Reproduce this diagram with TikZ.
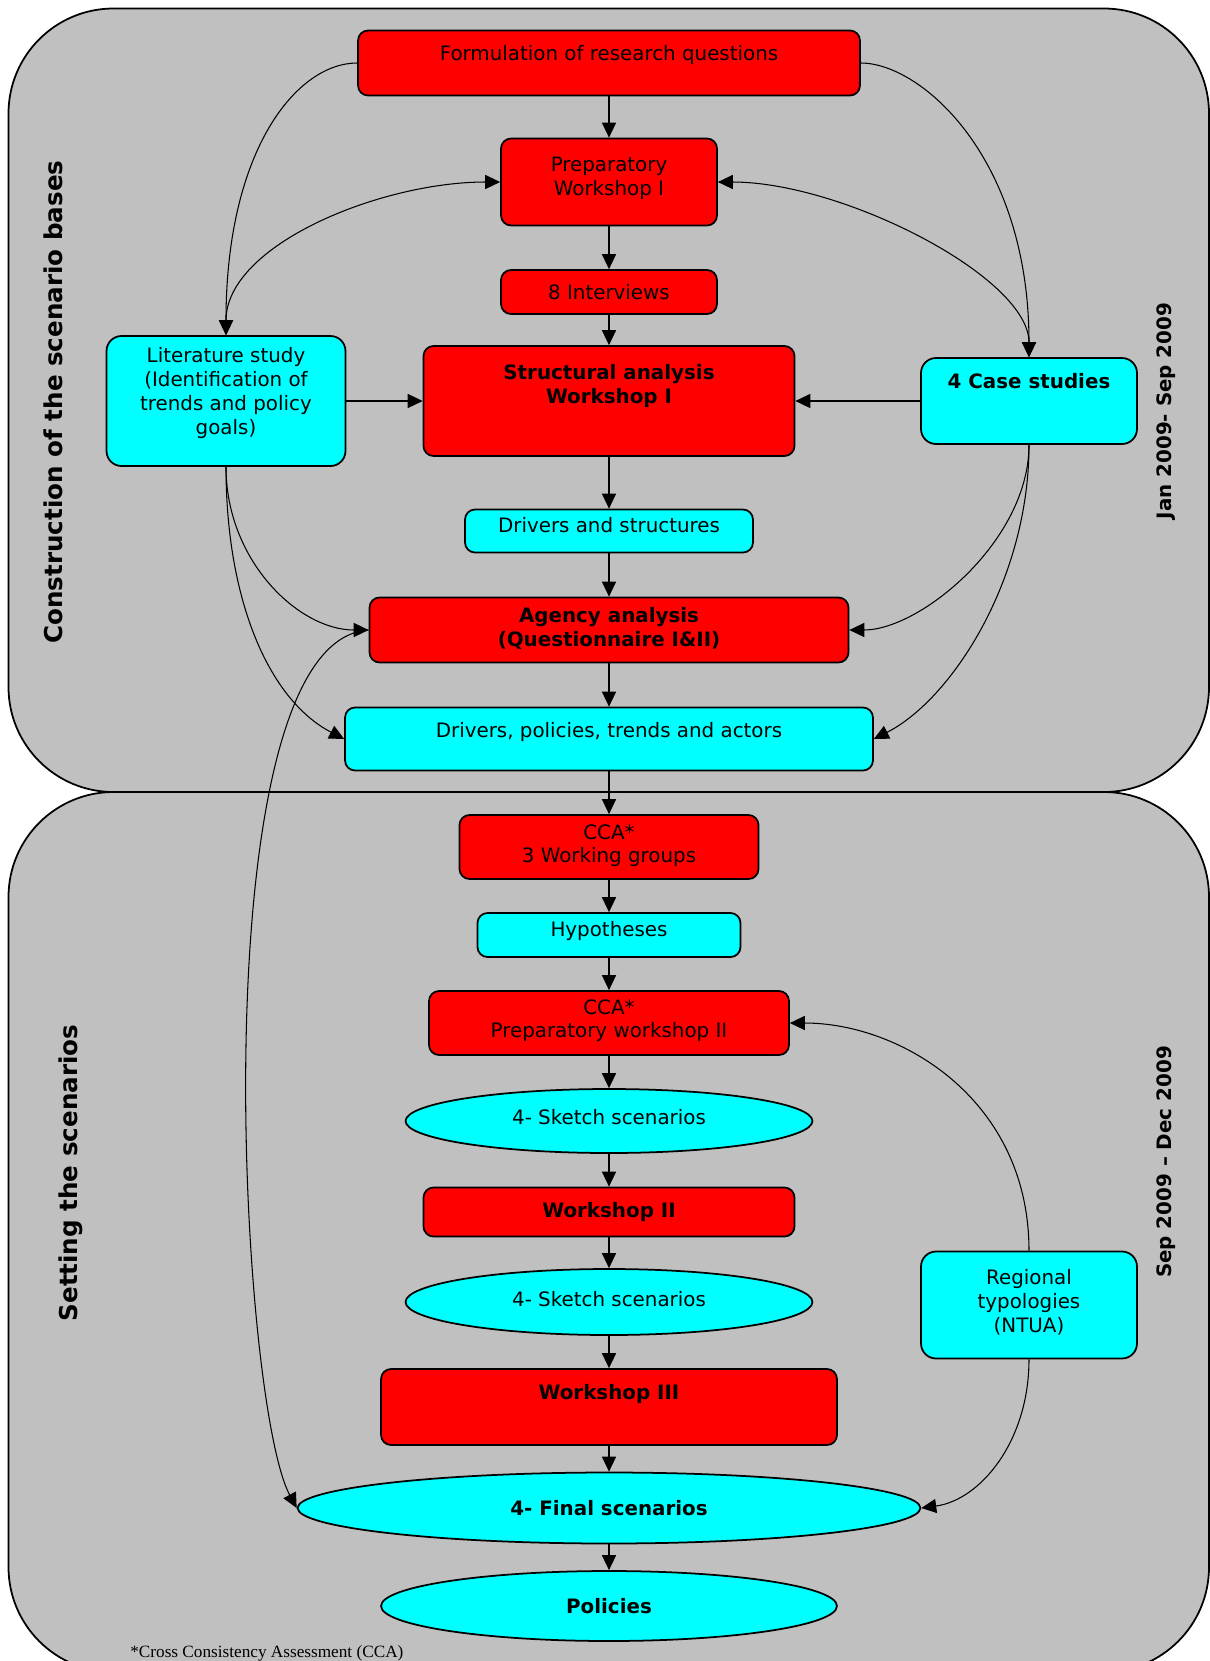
\documentclass[tikz,border=0pt]{standalone}
\usepackage{fontspec}
\setmainfont{DejaVu Sans}
\newfontfamily\notefont{Liberation Serif}
\usetikzlibrary{shapes.geometric,arrows.meta}
\definecolor{boxred}{RGB}{255,0,0}
\definecolor{boxcyan}{RGB}{0,255,255}
\definecolor{panelgray}{RGB}{192,192,192}
\tikzset{
	box/.style={draw, line width=1pt, rounded corners=0.2cm, align=center, inner sep=3pt, font=\fontsize{11.3pt}{13.6pt}\selectfont},
	redbox/.style={box, fill=boxred},
	cyanbox/.style={box, fill=boxcyan},
	oval/.style={ellipse, draw, line width=1pt, fill=boxcyan, align=center, inner sep=1pt, font=\fontsize{11.3pt}{13.6pt}\selectfont},
	lift/.style={text depth=#1},
	arr/.style={-{Triangle[length=8.5pt,width=8pt]}, line width=0.6pt},
	dbl/.style={{Triangle[length=8.5pt,width=8pt]}-{Triangle[length=8.5pt,width=8pt]}, line width=0.6pt},
	panel/.style={draw, fill=panelgray, line width=1pt, rounded corners=2.1cm},
	sidelabel/.style={rotate=90, anchor=base, font=\bfseries\fontsize{14pt}{16pt}\selectfont},
	datelabel/.style={rotate=90, anchor=base, font=\bfseries\fontsize{11.3pt}{13.6pt}\selectfont}
}
\begin{document}
\begin{tikzpicture}[x=0.02cm, y=-0.02cm]
		\useasboundingbox (0,0) rectangle (1210,1661);
		\clip (0,0) rectangle (1210,1661);
		% the two phases
			\draw [panel] (8.5,792) rectangle (1209,1672);
			\draw [panel] (8.5,8.5) rectangle (1209,792);
			\node [sidelabel] (constr) at (62,402) {Construction of the scenario bases};
			\node [sidelabel] (setting) at (77,1173) {Setting the scenarios};
			\node [datelabel] (phaseone) at (1171,411) {Jan 2009- Sep 2009};
			\node [datelabel] (phasetwo) at (1171,1162) {Sep 2009 -- Dec 2009};
		% first phase
			\node [redbox, minimum width=10.04cm, minimum height=1.3cm, lift=11.5pt] (form) at (609,63) {Formulation of research questions};
			\node [redbox, minimum width=4.32cm, minimum height=1.74cm, lift=7pt] (prep) at (609,182) {Preparatory\\Workshop I};
			\node [redbox, minimum width=4.32cm, minimum height=0.88cm] (interv) at (609,292) {8 Interviews};
			\node [redbox, minimum width=7.42cm, minimum height=2.2cm, lift=19.5pt, font=\bfseries\fontsize{11.3pt}{13.6pt}\selectfont] (struct) at (609,401) {Structural analysis\\Workshop I};
			\node [cyanbox, minimum width=4.78cm, minimum height=2.6cm, lift=11.5pt, rounded corners=0.3cm] (lit) at (226,401) {Literature study\\(Identification of\\trends and policy\\goals)};
			\node [cyanbox, minimum width=4.32cm, minimum height=1.72cm, lift=22.5pt, rounded corners=0.3cm, font=\bfseries\fontsize{11.3pt}{13.6pt}\selectfont] (case) at (1029,401) {4 Case studies};
			\node [cyanbox, minimum width=5.76cm, minimum height=0.86cm, lift=6.8pt] (drvs) at (609,531) {Drivers and structures};
			\node [redbox, minimum width=9.58cm, minimum height=1.3cm, lift=3.5pt, font=\bfseries\fontsize{11.3pt}{13.6pt}\selectfont] (agency) at (609,630) {Agency analysis\\(Questionnaire I\&II)};
			\node [cyanbox, minimum width=10.56cm, minimum height=1.26cm, lift=9.8pt] (dpol) at (609,739) {Drivers, policies, trends and actors};
		% second phase
			\node [redbox, minimum width=5.98cm, minimum height=1.28cm, lift=3.8pt] (ccaone) at (609,847) {CCA*\\3 Working groups};
			\node [cyanbox, minimum width=5.26cm, minimum height=0.88cm, lift=6.8pt] (hyp) at (609,935) {Hypotheses};
			\node [redbox, minimum width=7.2cm, minimum height=1.28cm, lift=5pt] (ccatwo) at (609,1023) {CCA*\\Preparatory workshop II};
			\node [oval, minimum width=8.14cm, minimum height=1.28cm, lift=5pt] (sketchone) at (609,1121) {4- Sketch scenarios};
			\node [redbox, minimum width=7.42cm, minimum height=0.98cm, lift=2.7pt, font=\bfseries\fontsize{11.3pt}{13.6pt}\selectfont] (wstwo) at (609,1212) {Workshop II};
			\node [oval, minimum width=8.14cm, minimum height=1.32cm, lift=3.8pt] (sketchtwo) at (609,1302) {4- Sketch scenarios};
			\node [redbox, minimum width=9.12cm, minimum height=1.52cm, lift=17pt, font=\bfseries\fontsize{11.3pt}{13.6pt}\selectfont] (wsthree) at (609,1407) {Workshop III};
			\node [oval, minimum width=12.46cm, minimum height=1.42cm, font=\bfseries\fontsize{11.3pt}{13.6pt}\selectfont] (final) at (609,1508) {4- Final scenarios};
			\node [oval, minimum width=9.12cm, minimum height=1.4cm, font=\bfseries\fontsize{11.3pt}{13.6pt}\selectfont] (pol) at (609,1606) {Policies};
			\node [cyanbox, minimum width=4.32cm, minimum height=2.14cm, lift=4.4pt, rounded corners=0.3cm] (reg) at (1029,1305) {Regional\\typologies\\(NTUA)};
			\node [anchor=base west, inner sep=0pt, font=\notefont\fontsize{9.8pt}{11pt}\selectfont] (note) at (130,1657) {*Cross Consistency Assessment (CCA)};
		% main line
			\foreach \a/\b in {form/prep, prep/interv, interv/struct, struct/drvs, drvs/agency, agency/dpol, dpol/ccaone, ccaone/hyp, hyp/ccatwo, ccatwo/sketchone, sketchone/wstwo, wstwo/sketchtwo, sketchtwo/wsthree, wsthree/final, final/pol}
				\draw [arr] (\a.south) -- (\b.north);
		% side inputs
			\draw [arr] (form.west) .. controls +(-60,0) and +(0,-186) .. (lit.north);
			\draw [arr] (form.east) .. controls +(60,0) and +(0,-200) .. (case.north);
			\draw [dbl] (lit.north) .. controls +(0,-90) and +(-120,0) .. (prep.west);
			\draw [dbl] (case.north) .. controls +(0,-80) and +(125,0) .. (prep.east);
			\draw [arr] (lit.east) -- (struct.west);
			\draw [arr] (case.west) -- (struct.east);
			\draw [arr] (lit.south) .. controls +(0,94) and +(-70,0) .. (agency.west);
			\draw [arr] (lit.south) .. controls +(0,134) and +(-75,-39) .. (dpol.west);
			\draw [arr] (case.south) .. controls +(0,96) and +(71,0) .. (agency.east);
			\draw [arr] (case.south) .. controls +(0,136) and +(77,-39) .. (dpol.east);
			\draw [arr] (agency.west) .. controls +(-170,10) and +(-58,-108) .. (final.west);
			\draw [arr] (reg.north) .. controls +(0,-151) and +(111,0) .. (ccatwo.east);
			\draw [arr] (reg.south) .. controls +(0,82) and +(59,-8) .. (final.east);
	\end{tikzpicture}
\end{document}
